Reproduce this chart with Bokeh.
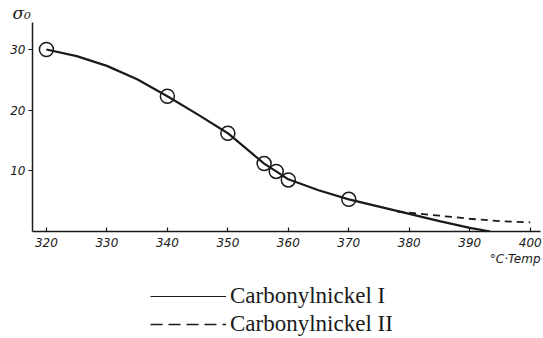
from bokeh.plotting import figure
from bokeh.models import Range1d, Legend, LegendItem, FixedTicker, Title
from bokeh.layouts import column
from bokeh.embed import file_html
from bokeh.resources import INLINE

# Data
temps_meas = [320, 340, 350, 356, 358, 360, 370]
sigma_meas = [30.0, 22.3, 16.2, 11.2, 9.9, 8.5, 5.3]

curve1_t = [320, 325, 330, 335, 340, 345, 350, 353, 356, 358, 360, 365, 370, 375, 380, 385, 390, 393.4]
curve1_s = [30.0, 28.9, 27.3, 25.1, 22.3, 19.3, 16.2, 13.7, 11.2, 9.9, 8.6, 6.8, 5.3, 4.1, 2.9, 1.7, 0.6, 0.0]

curve2_t = [378, 380, 385, 390, 395, 400]
curve2_s = [3.3, 3.1, 2.6, 2.1, 1.7, 1.5]

x_ticks = [320, 330, 340, 350, 360, 370, 380, 390, 400]
y_ticks = [10, 20, 30]

series_names = ["Carbonylnickel I", "Carbonylnickel II"]
y_label = "σ₀"
x_label = "°C·Temp"

ink = "#1a1a1a"

p = figure(width=543, height=270, output_backend="svg", toolbar_location=None,
           x_range=Range1d(317.7, 401.7), y_range=Range1d(0, 34.45),
           min_border_left=32, min_border_right=3, min_border_top=22, min_border_bottom=39)
p.outline_line_color = None
p.xgrid.grid_line_color = None
p.ygrid.grid_line_color = None
p.background_fill_color = "white"
p.border_fill_color = "white"

for ax in (p.xaxis[0], p.yaxis[0]):
    ax.axis_line_color = ink
    ax.axis_line_width = 1.5
    ax.major_tick_line_color = ink
    ax.major_tick_line_width = 1.2
    ax.minor_tick_line_color = None
    ax.major_label_text_font = "DejaVu Sans"
    ax.major_label_text_font_style = "italic"
    ax.major_label_text_font_size = "12px"
    ax.major_label_text_color = ink

p.xaxis.ticker = FixedTicker(ticks=x_ticks)
p.yaxis.ticker = FixedTicker(ticks=y_ticks)
p.xaxis.major_tick_in = 4
p.xaxis.major_tick_out = 0
p.xaxis.major_label_standoff = 6
p.yaxis.major_tick_in = 0
p.yaxis.major_tick_out = 4
p.yaxis.major_label_standoff = 3

r1 = p.line(curve1_t, curve1_s, line_color=ink, line_width=2.2)
r2 = p.line(curve2_t, curve2_s, line_color=ink, line_width=1.8, line_dash="7 5")
p.scatter(temps_meas, sigma_meas, marker="circle", size=14, fill_color=None,
          line_color=ink, line_width=1.5)

p.add_layout(Title(text=y_label, align="left", offset=-20, text_font="DejaVu Serif",
                   text_font_style="italic", text_font_size="17px", text_color=ink,
                   standoff=0), "above")
p.add_layout(Title(text=x_label, align="right", offset=0, text_font="DejaVu Sans",
                   text_font_style="italic", text_font_size="12px", text_color=ink,
                   standoff=0), "below")

# Legend figure below the chart (its lines reuse the series data, which lies outside its 0..1 view)
q = figure(width=543, height=68, output_backend="svg", toolbar_location=None,
           x_axis_type=None, y_axis_type=None, x_range=Range1d(0, 1), y_range=Range1d(0, 1),
           min_border_left=0, min_border_right=0, min_border_top=0, min_border_bottom=0)
q.outline_line_color = None
q.xgrid.grid_line_color = None
q.ygrid.grid_line_color = None
q.border_fill_color = "white"
l1 = q.line(curve1_t, curve1_s, line_color=ink, line_width=1.2)
l2 = q.line(curve2_t, curve2_s, line_color=ink, line_width=1.5, line_dash="12 6")
legend = Legend(items=[LegendItem(label=series_names[0], renderers=[l1]),
                       LegendItem(label=series_names[1], renderers=[l2])],
                location=(118, 1), orientation="vertical",
                label_text_font="Liberation Serif", label_text_font_size="23px",
                label_text_color=ink, glyph_width=76, glyph_height=24,
                label_height=24, spacing=2, padding=0, margin=0,
                label_standoff=4, border_line_color=None, background_fill_alpha=0)
q.add_layout(legend, "center")

layout = column(p, q, spacing=0)
open("out.html", "w").write(file_html(layout, INLINE))
